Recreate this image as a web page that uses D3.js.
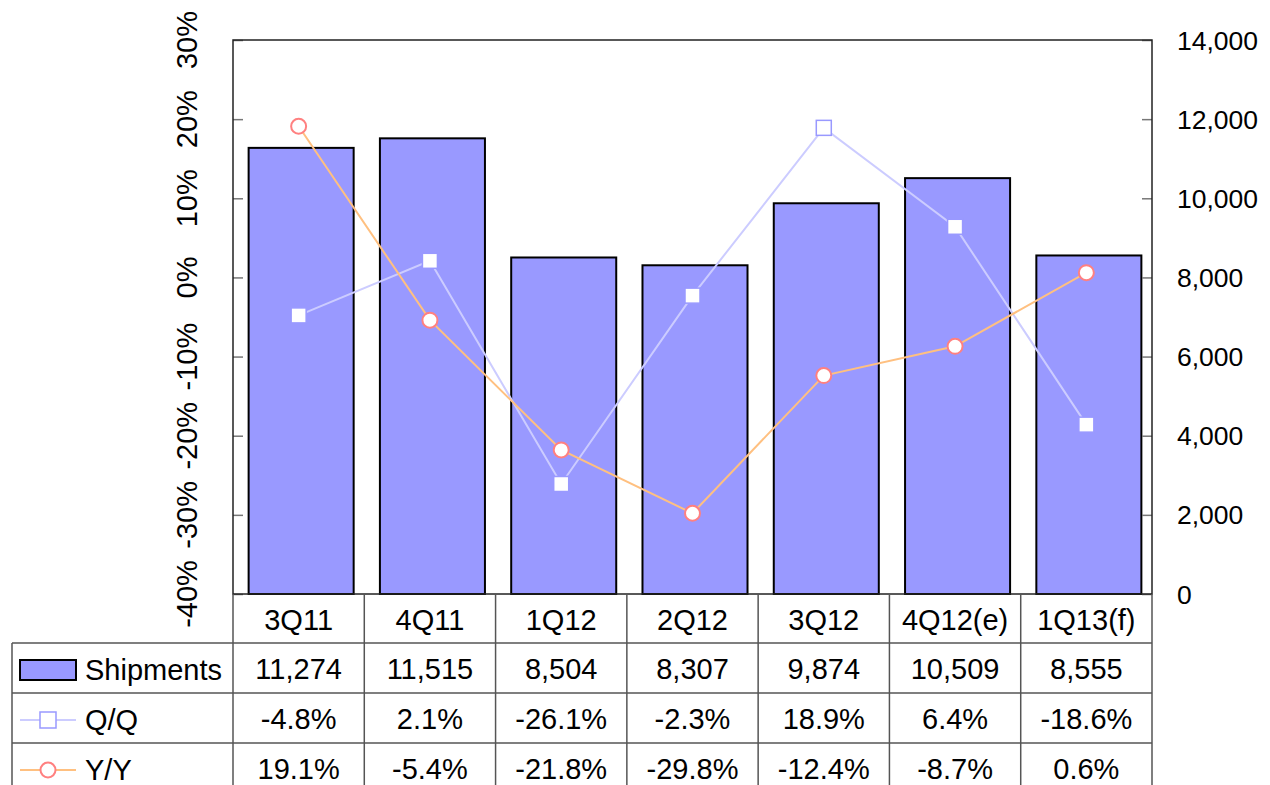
<!DOCTYPE html>
<html>
<head>
<meta charset="utf-8">
<script src="https://cdn.jsdelivr.net/npm/d3@7"></script>
<style>
  body { margin: 0; background: #fff; }
  svg { display: block; font-family: "Liberation Sans", Arial, sans-serif; }
</style>
</head>
<body>
<div id="chart"></div>
<script>
const quarters = ["3Q11", "4Q11", "1Q12", "2Q12", "3Q12", "4Q12(e)", "1Q13(f)"];
const shipments = [11274, 11515, 8504, 8307, 9874, 10509, 8555];
const qq = [-4.8, 2.1, -26.1, -2.3, 18.9, 6.4, -18.6];
const yy = [19.1, -5.4, -21.8, -29.8, -12.4, -8.7, 0.6];
const pctTicks = [-40, -30, -20, -10, 0, 10, 20, 30];
const unitTicks = [0, 2000, 4000, 6000, 8000, 10000, 12000, 14000];

const W = 1270, H = 785;
const plot = { left: 233, right: 1152, top: 40, bottom: 594 };
const tableLeft = 12;
const fontSize = 29;

const colors = {
  bar: "#9999ff",
  qqLine: "#ccccff",
  qqMark: "#9999ff",
  yyLine: "#ffc080",
  yyMark: "#ff8080",
  grid: "#555",
};

const svg = d3.select("#chart").append("svg").attr("width", W).attr("height", H);

const x = d3.scaleBand().domain(quarters).range([plot.left, plot.right]).paddingInner(0.2).paddingOuter(0.1);
const xc = (i) => x(quarters[i]) + x.bandwidth() / 2;
const yL = d3.scaleLinear().domain([-40, 30]).range([plot.bottom, plot.top]);
const yR = d3.scaleLinear().domain([0, 14000]).range([plot.bottom, plot.top]);

// bars (sit a hair right of the column centre, like the original)
svg.append("g")
  .selectAll("rect")
  .data(shipments)
  .join("rect")
  .attr("x", (d, i) => x(quarters[i]) + 2.5)
  .attr("width", x.bandwidth())
  .attr("y", (d) => yR(d))
  .attr("height", (d) => yR(0) - yR(d))
  .attr("fill", colors.bar)
  .attr("stroke", "#000")
  .attr("stroke-width", 2);

// left axis
const leftAxis = svg.append("g")
  .attr("transform", `translate(${plot.left},0)`)
  .call(d3.axisRight(yL).tickValues(pctTicks).tickSize(10).tickFormat(""));
leftAxis.select(".domain").remove();
leftAxis.selectAll("line").attr("stroke", "#777").attr("stroke-width", 1.5);

svg.append("g")
  .selectAll("text")
  .data(pctTicks)
  .join("text")
  .attr("transform", (d) => `translate(197,${yL(d)}) rotate(-90)`)
  .attr("text-anchor", "middle")
  .style("font-size", fontSize + "px")
  .text((d) => d + "%");

// right axis
const rightAxis = svg.append("g")
  .attr("transform", `translate(${plot.right},0)`)
  .call(d3.axisLeft(yR).tickValues(unitTicks).tickSize(10).tickFormat(""));
rightAxis.select(".domain").remove();
rightAxis.selectAll("line").attr("stroke", "#777").attr("stroke-width", 1.5);

svg.append("g")
  .selectAll("text")
  .data(unitTicks)
  .join("text")
  .attr("x", 1177)
  .attr("y", (d) => yR(d))
  .attr("dy", "0.36em")
  .style("font-size", "26.5px")
  .text((d) => d3.format(",")(d));

// plot frame
svg.append("rect")
  .attr("x", plot.left).attr("y", plot.top)
  .attr("width", plot.right - plot.left).attr("height", plot.bottom - plot.top)
  .attr("fill", "none").attr("stroke", "#222").attr("stroke-width", 1.5);

// lines
const line = (vals) => d3.line().x((d, i) => xc(i)).y((d) => yL(d))(vals);

svg.append("path").attr("d", line(qq)).attr("fill", "none")
  .attr("stroke", colors.qqLine).attr("stroke-width", 2);
svg.append("path").attr("d", line(yy)).attr("fill", "none")
  .attr("stroke", colors.yyLine).attr("stroke-width", 2);

const sq = 15;
svg.append("g").selectAll("rect").data(qq).join("rect")
  .attr("x", (d, i) => xc(i) - sq / 2).attr("y", (d) => yL(d) - sq / 2)
  .attr("width", sq).attr("height", sq)
  .attr("fill", "#fff").attr("stroke", colors.qqMark).attr("stroke-width", 1.5);

svg.append("g").selectAll("circle").data(yy).join("circle")
  .attr("cx", (d, i) => xc(i)).attr("cy", (d) => yL(d)).attr("r", 7.5)
  .attr("fill", "#fff").attr("stroke", colors.yyMark).attr("stroke-width", 2);

// data table
const colW = (plot.right - plot.left) / quarters.length;
const tbl = svg.append("g").attr("stroke", colors.grid).attr("stroke-width", 1.5);
const rowTops = [plot.bottom, plot.bottom + 49, plot.bottom + 99, plot.bottom + 149];

d3.range(quarters.length + 1).forEach((i) => {
  tbl.append("line")
    .attr("x1", plot.left + i * colW).attr("x2", plot.left + i * colW)
    .attr("y1", plot.bottom).attr("y2", H);
});
tbl.append("line").attr("x1", tableLeft).attr("x2", tableLeft).attr("y1", rowTops[1]).attr("y2", H);
rowTops.slice(1).forEach((yv) => {
  tbl.append("line").attr("x1", tableLeft).attr("x2", plot.right).attr("y1", yv).attr("y2", yv);
});

const rowsText = [
  quarters,
  shipments.map((d) => d3.format(",")(d)),
  qq.map((d) => d.toFixed(1) + "%"),
  yy.map((d) => d.toFixed(1) + "%"),
];
rowsText.forEach((row, r) => {
  svg.append("g").selectAll("text").data(row).join("text")
    .attr("x", (d, i) => plot.left + (i + 0.5) * colW)
    .attr("y", rowTops[r] + 25.5)
    .attr("dy", "0.36em")
    .attr("text-anchor", "middle")
    .style("font-size", fontSize + "px")
    .text((d) => d);
});

// legend cells
const legY = (r) => rowTops[r] + 27;
svg.append("rect").attr("x", 20).attr("y", legY(1) - 10).attr("width", 56).attr("height", 20)
  .attr("fill", colors.bar).attr("stroke", "#000").attr("stroke-width", 2);
svg.append("line").attr("x1", 20).attr("x2", 76).attr("y1", legY(2)).attr("y2", legY(2))
  .attr("stroke", colors.qqLine).attr("stroke-width", 2);
svg.append("rect").attr("x", 48 - 8).attr("y", legY(2) - 8).attr("width", 16).attr("height", 16)
  .attr("fill", "#fff").attr("stroke", colors.qqMark).attr("stroke-width", 1.5);
svg.append("line").attr("x1", 20).attr("x2", 76).attr("y1", legY(3)).attr("y2", legY(3))
  .attr("stroke", colors.yyLine).attr("stroke-width", 2);
svg.append("circle").attr("cx", 48).attr("cy", legY(3)).attr("r", 7.5)
  .attr("fill", "#fff").attr("stroke", colors.yyMark).attr("stroke-width", 2);

const legNames = ["Shipments", "Q/Q", "Y/Y"];
svg.append("g").selectAll("text").data(legNames).join("text")
  .attr("x", 85).attr("y", (d, i) => legY(i + 1)).attr("dy", "0.36em")
  .style("font-size", fontSize + "px")
  .text((d) => d);
</script>
</body>
</html>
